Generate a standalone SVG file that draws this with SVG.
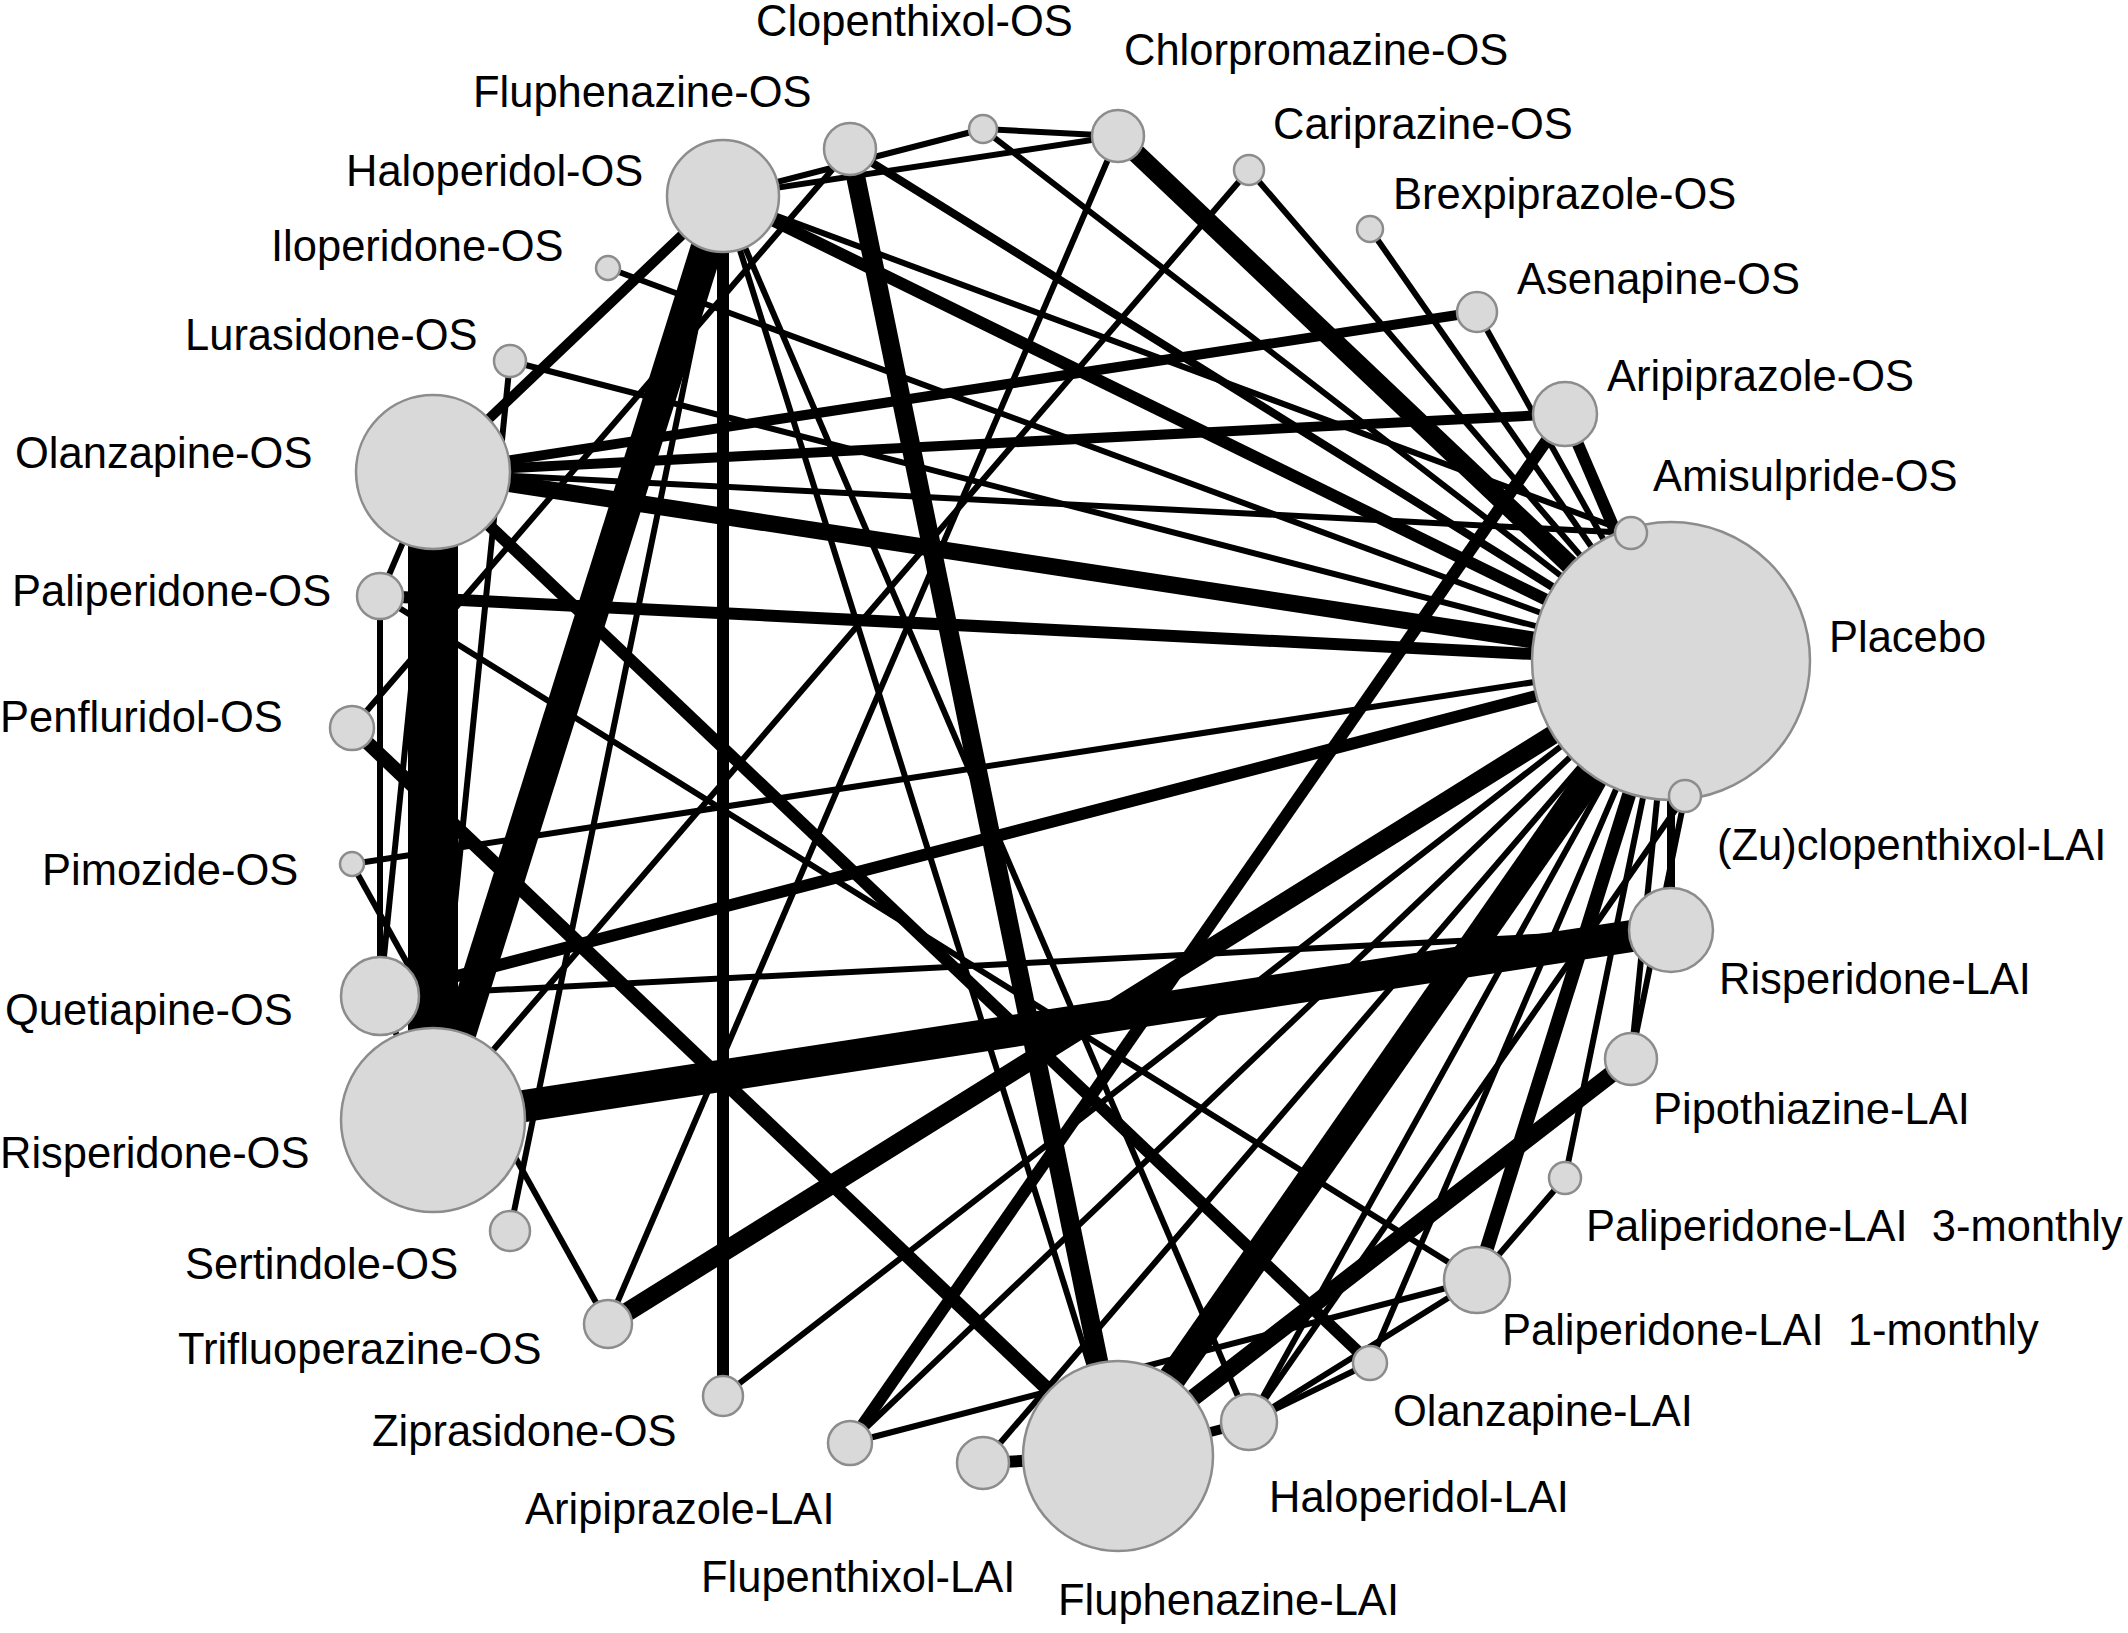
<svg xmlns="http://www.w3.org/2000/svg" width="2128" height="1633" viewBox="0 0 2128 1633">
<style>
.bg{fill:#ffffff}
#edges line{stroke:#000;stroke-linecap:butt}
.w6{stroke-width:6}.w8{stroke-width:8}.w10{stroke-width:10}.w12{stroke-width:12}.w14{stroke-width:14}.w17{stroke-width:17}.w19{stroke-width:19}.w28{stroke-width:28}.w32{stroke-width:32}.w50{stroke-width:50}
.node circle{fill:#d9d9d9;stroke:#8c8c8c;stroke-width:2.5}
.node text{font-family:"Liberation Sans",Arial,sans-serif;font-size:43.5px;fill:#000}
</style>
<rect class="bg" x="0" y="0" width="2128" height="1633"/>
<g id="edges">
<line class="w6" x1="723" y1="196" x2="983" y2="129"/>
<line class="w6" x1="723" y1="196" x2="1118" y2="136"/>
<line class="w6" x1="983" y1="129" x2="1118" y2="136"/>
<line class="w6" x1="983" y1="129" x2="1671" y2="661"/>
<line class="w8" x1="850" y1="149" x2="1671" y2="661"/>
<line class="w19" x1="850" y1="149" x2="1118" y2="1456"/>
<line class="w6" x1="850" y1="149" x2="352" y2="728"/>
<line class="w32" x1="723" y1="196" x2="433" y2="1120"/>
<line class="w10" x1="723" y1="196" x2="433" y2="472"/>
<line class="w12" x1="723" y1="196" x2="723" y2="1396"/>
<line class="w6" x1="723" y1="196" x2="1249" y2="1422"/>
<line class="w6" x1="723" y1="196" x2="1118" y2="1456"/>
<line class="w12" x1="723" y1="196" x2="1671" y2="661"/>
<line class="w6" x1="723" y1="196" x2="1631" y2="533"/>
<line class="w6" x1="723" y1="196" x2="510" y2="1231"/>
<line class="w6" x1="608" y1="268" x2="1671" y2="661"/>
<line class="w6" x1="510" y1="361" x2="1671" y2="661"/>
<line class="w6" x1="510" y1="361" x2="433" y2="1120"/>
<line class="w10" x1="433" y1="472" x2="1477" y2="312"/>
<line class="w10" x1="433" y1="472" x2="1565" y2="414"/>
<line class="w6" x1="433" y1="472" x2="1631" y2="533"/>
<line class="w17" x1="433" y1="472" x2="1671" y2="661"/>
<line class="w50" x1="433" y1="472" x2="433" y2="1120"/>
<line class="w12" x1="433" y1="472" x2="1370" y2="1363"/>
<line class="w6" x1="433" y1="472" x2="380" y2="596"/>
<line class="w6" x1="433" y1="472" x2="380" y2="996"/>
<line class="w6" x1="380" y1="596" x2="380" y2="996"/>
<line class="w12" x1="380" y1="596" x2="1671" y2="661"/>
<line class="w6" x1="380" y1="596" x2="1477" y2="1280"/>
<line class="w14" x1="352" y1="728" x2="1118" y2="1456"/>
<line class="w12" x1="380" y1="996" x2="1671" y2="661"/>
<line class="w6" x1="380" y1="996" x2="1671" y2="930"/>
<line class="w6" x1="380" y1="996" x2="433" y2="1120"/>
<line class="w6" x1="352" y1="864" x2="1671" y2="661"/>
<line class="w6" x1="352" y1="864" x2="608" y2="1324"/>
<line class="w19" x1="1118" y1="136" x2="1671" y2="661"/>
<line class="w6" x1="1118" y1="136" x2="608" y2="1324"/>
<line class="w6" x1="1249" y1="170" x2="1671" y2="661"/>
<line class="w6" x1="1249" y1="170" x2="433" y2="1120"/>
<line class="w6" x1="1370" y1="229" x2="1671" y2="661"/>
<line class="w6" x1="1477" y1="312" x2="1671" y2="661"/>
<line class="w12" x1="1565" y1="414" x2="1671" y2="661"/>
<line class="w6" x1="1631" y1="533" x2="1671" y2="661"/>
<line class="w32" x1="433" y1="1120" x2="1671" y2="930"/>
<line class="w19" x1="608" y1="1324" x2="1671" y2="661"/>
<line class="w6" x1="723" y1="1396" x2="1671" y2="661"/>
<line class="w12" x1="850" y1="1443" x2="1565" y2="414"/>
<line class="w6" x1="850" y1="1443" x2="1671" y2="661"/>
<line class="w6" x1="850" y1="1443" x2="1477" y2="1280"/>
<line class="w12" x1="983" y1="1463" x2="1118" y2="1456"/>
<line class="w6" x1="983" y1="1463" x2="1671" y2="661"/>
<line class="w28" x1="1671" y1="661" x2="1118" y2="1456"/>
<line class="w17" x1="1118" y1="1456" x2="1631" y2="1059"/>
<line class="w14" x1="1671" y1="661" x2="1477" y2="1280"/>
<line class="w6" x1="1477" y1="1280" x2="1565" y2="1178"/>
<line class="w6" x1="1477" y1="1280" x2="1249" y2="1422"/>
<line class="w6" x1="1370" y1="1363" x2="1249" y2="1422"/>
<line class="w6" x1="1370" y1="1363" x2="1671" y2="661"/>
<line class="w10" x1="1249" y1="1422" x2="1118" y2="1456"/>
<line class="w6" x1="1249" y1="1422" x2="1685" y2="796"/>
<line class="w6" x1="1249" y1="1422" x2="1671" y2="661"/>
<line class="w6" x1="1631" y1="1059" x2="1671" y2="661"/>
<line class="w6" x1="1631" y1="1059" x2="1685" y2="796"/>
<line class="w6" x1="1565" y1="1178" x2="1671" y2="661"/>
<line class="w8" x1="1671" y1="930" x2="1671" y2="661"/>
</g>
<g id="n-placebo" class="node"><circle cx="1671" cy="661" r="139"/><text x="1829" y="652">Placebo</text></g>
<g id="n-amisulpride-os" class="node"><circle cx="1631" cy="533" r="16"/><text x="1653" y="491">Amisulpride-OS</text></g>
<g id="n-aripiprazole-os" class="node"><circle cx="1565" cy="414" r="32"/><text x="1607" y="391">Aripiprazole-OS</text></g>
<g id="n-asenapine-os" class="node"><circle cx="1477" cy="312" r="20"/><text x="1517" y="294">Asenapine-OS</text></g>
<g id="n-brexpiprazole-os" class="node"><circle cx="1370" cy="229" r="13"/><text x="1393" y="209">Brexpiprazole-OS</text></g>
<g id="n-cariprazine-os" class="node"><circle cx="1249" cy="170" r="15"/><text x="1273" y="139">Cariprazine-OS</text></g>
<g id="n-chlorpromazine-os" class="node"><circle cx="1118" cy="136" r="26"/><text x="1124" y="65">Chlorpromazine-OS</text></g>
<g id="n-clopenthixol-os" class="node"><circle cx="983" cy="129" r="14"/><text x="756" y="36">Clopenthixol-OS</text></g>
<g id="n-fluphenazine-os" class="node"><circle cx="850" cy="149" r="26"/><text x="473" y="107">Fluphenazine-OS</text></g>
<g id="n-haloperidol-os" class="node"><circle cx="723" cy="196" r="56"/><text x="346" y="186">Haloperidol-OS</text></g>
<g id="n-iloperidone-os" class="node"><circle cx="608" cy="268" r="12"/><text x="271" y="261">Iloperidone-OS</text></g>
<g id="n-lurasidone-os" class="node"><circle cx="510" cy="361" r="16"/><text x="185" y="350">Lurasidone-OS</text></g>
<g id="n-olanzapine-os" class="node"><circle cx="433" cy="472" r="77"/><text x="15" y="468">Olanzapine-OS</text></g>
<g id="n-paliperidone-os" class="node"><circle cx="380" cy="596" r="23"/><text x="12" y="606">Paliperidone-OS</text></g>
<g id="n-penfluridol-os" class="node"><circle cx="352" cy="728" r="22"/><text x="0" y="732">Penfluridol-OS</text></g>
<g id="n-pimozide-os" class="node"><circle cx="352" cy="864" r="12"/><text x="42" y="885">Pimozide-OS</text></g>
<g id="n-quetiapine-os" class="node"><circle cx="380" cy="996" r="39"/><text x="5" y="1025">Quetiapine-OS</text></g>
<g id="n-risperidone-os" class="node"><circle cx="433" cy="1120" r="92"/><text x="0" y="1168">Risperidone-OS</text></g>
<g id="n-sertindole-os" class="node"><circle cx="510" cy="1231" r="20"/><text x="185" y="1279">Sertindole-OS</text></g>
<g id="n-trifluoperazine-os" class="node"><circle cx="608" cy="1324" r="24"/><text x="178" y="1364">Trifluoperazine-OS</text></g>
<g id="n-ziprasidone-os" class="node"><circle cx="723" cy="1396" r="20"/><text x="372" y="1446">Ziprasidone-OS</text></g>
<g id="n-aripiprazole-lai" class="node"><circle cx="850" cy="1443" r="22"/><text x="525" y="1524">Aripiprazole-LAI</text></g>
<g id="n-flupenthixol-lai" class="node"><circle cx="983" cy="1463" r="26"/><text x="701" y="1592">Flupenthixol-LAI</text></g>
<g id="n-fluphenazine-lai" class="node"><circle cx="1118" cy="1456" r="95"/><text x="1058" y="1615">Fluphenazine-LAI</text></g>
<g id="n-haloperidol-lai" class="node"><circle cx="1249" cy="1422" r="28"/><text x="1269" y="1512">Haloperidol-LAI</text></g>
<g id="n-olanzapine-lai" class="node"><circle cx="1370" cy="1363" r="17"/><text x="1393" y="1426">Olanzapine-LAI</text></g>
<g id="n-paliperidone-lai-1m" class="node"><circle cx="1477" cy="1280" r="33"/><text x="1502" y="1345">Paliperidone-LAI&#160;&#160;1-monthly</text></g>
<g id="n-paliperidone-lai-3m" class="node"><circle cx="1565" cy="1178" r="16"/><text x="1586" y="1241">Paliperidone-LAI&#160;&#160;3-monthly</text></g>
<g id="n-pipothiazine-lai" class="node"><circle cx="1631" cy="1059" r="26"/><text x="1653" y="1124">Pipothiazine-LAI</text></g>
<g id="n-risperidone-lai" class="node"><circle cx="1671" cy="930" r="42"/><text x="1719" y="994">Risperidone-LAI</text></g>
<g id="n-zuclopenthixol-lai" class="node"><circle cx="1685" cy="796" r="16"/><text x="1717" y="860">(Zu)clopenthixol-LAI</text></g>
</svg>
